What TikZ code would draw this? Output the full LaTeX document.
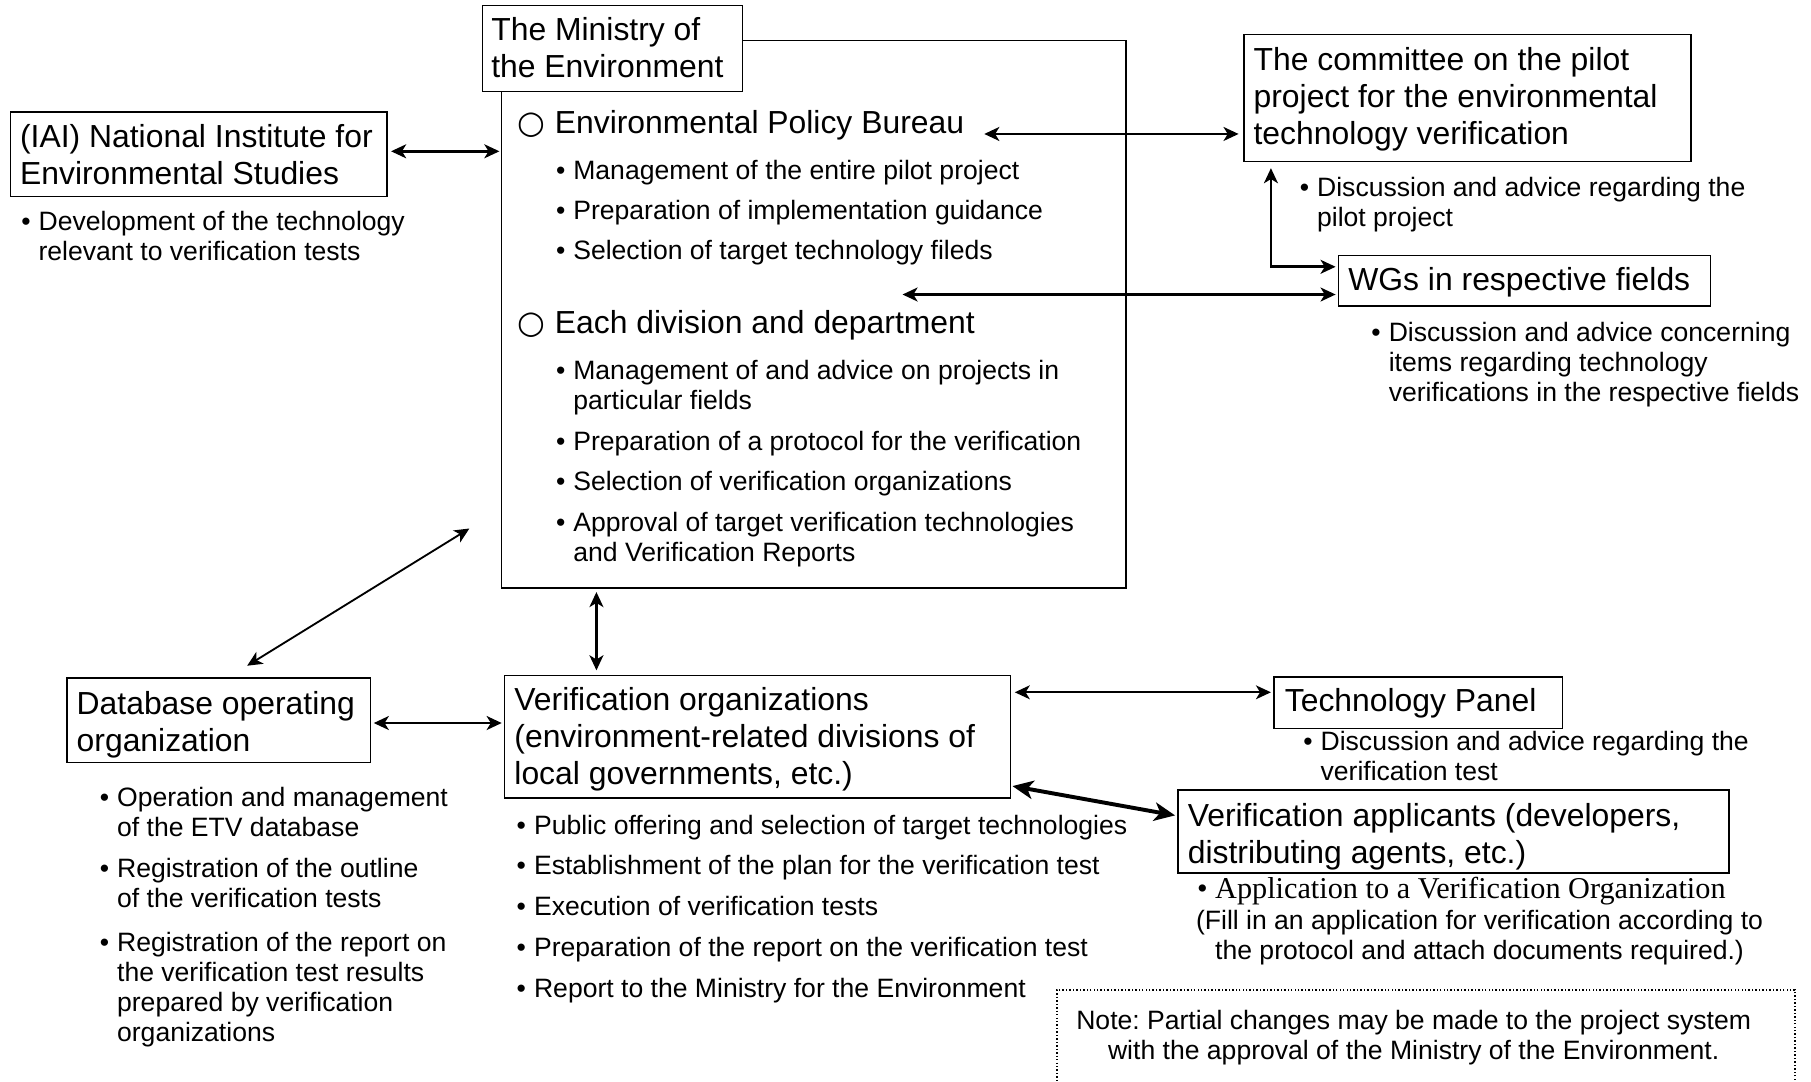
\documentclass[tikz,border=0pt]{standalone}
\usepackage{fontspec}
\setmainfont{Liberation Sans}
\newfontfamily\serifpart{Liberation Serif}
\newfontfamily\dejavu{DejaVu Sans}
\usetikzlibrary{arrows.meta,calc,fit}
\frenchspacing
\newcommand{\bulletbox}{\makebox[7.5pt][l]{•}}
\newcommand{\bulletind}{\hspace*{7.5pt}}
\newcommand{\circbox}{\makebox[16pt][l]{\dejavu ○}}
\begin{document}
\begin{tikzpicture}[x=0.5pt,y=-0.5pt,
  box/.style={draw, line width=0.6pt, inner sep=0pt},
  big/.style={font=\fontsize{13.8}{16}\selectfont, inner sep=0pt, anchor=north west, align=left},
  small/.style={font=\fontsize{11.5}{13}\selectfont, inner sep=0pt, anchor=north west, align=left},
  tip/.tip={Stealth[length=6.5pt,width=6pt,inset=1.8pt]},
  bigtip/.tip={Stealth[length=9pt,width=8pt,inset=2.5pt]},
  arr/.style={line width=1.15pt, tip-tip},
  thinarr/.style={line width=0.8pt, tip-tip},
  bigarr/.style={line width=1.7pt, bigtip-bigtip},
]
\useasboundingbox (0,0) rectangle (1568,936);
\clip (0,0) rectangle (1568,936);

% boxes
\node[box, fit={(434,35)(975,509)}] (ministry) {};
\node[box, fill=white, fit={(418,5)(643,79)}] (mtitle) {};
\node[box, fit={(9,97)(335,170)}] (iai) {};
\node[box, fit={(1077,30)(1464,140)}] (committee) {};
\node[box, fit={(1159,221)(1481,265)}] (wgs) {};
\node[box, fit={(58,587)(321,660)}] (db) {};
\node[box, fit={(437,585)(875,691)}] (vo) {};
\node[box, fit={(1103,586)(1353,631)}] (tp) {};
\node[box, fit={(1020,684)(1497,756)}] (va) {};
\node[draw, line width=0.6pt, dash pattern=on 0.6pt off 0.9pt, inner sep=0pt, fit={(915,857)(1554,980)}] (notebox) {};

% ministry texts
\node[big] (mtitletext) at (425,12.6) {\strut The Ministry of\\the Environment};
\node[big] (epb) at (448,92.6) {\strut\circbox Environmental Policy Bureau};
\node[small] (m1) at (481,136.8) {\strut\bulletbox Management of the entire pilot project};
\node[small] (m2) at (481,171.8) {\strut\bulletbox Preparation of implementation guidance};
\node[small] (m3) at (481,205.8) {\strut\bulletbox Selection of target technology fileds};
\node[big] (edd) at (448,265.6) {\strut\circbox Each division and department};
\node[small] (m4) at (481,309.8) {\strut\bulletbox Management of and advice on projects in\\\bulletind particular fields};
\node[small] (m5) at (481,371.8) {\strut\bulletbox Preparation of a protocol for the verification};
\node[small] (m6) at (481,405.8) {\strut\bulletbox Selection of verification organizations};
\node[small] (m7) at (481,441.8) {\strut\bulletbox Approval of target verification technologies\\\bulletind and Verification Reports};

% IAI
\node[big] (iaitext) at (17,104.6) {\strut(IAI) National Institute for\\Environmental Studies};
\node[small] (iaib) at (18,180.8) {\strut\bulletbox Development of the technology\\\bulletind relevant to verification tests};

% committee
\node[big] (comtext) at (1085,38.6) {\strut The committee on the pilot\\project for the environmental\\technology verification};
\node[small] (comb) at (1125,151.8) {\strut\bulletbox Discussion and advice regarding the\\\bulletind pilot project};

% WGs
\node[big] (wgstext) at (1167,228.6) {\strut WGs in respective fields};
\node[small] (wgsb) at (1187,276.8) {\strut\bulletbox Discussion and advice concerning\\\bulletind items regarding technology\\\bulletind verifications in the respective fields};

% database
\node[big] (dbtext) at (66,595.6) {\strut Database operating\\organization};
\node[small] (db1) at (86,679.8) {\strut\bulletbox Operation and management\\\bulletind of the ETV database};
\node[small] (db2) at (86,740.8) {\strut\bulletbox Registration of the outline\\\bulletind of the verification tests};
\node[small] (db3) at (86,804.8) {\strut\bulletbox Registration of the report on\\\bulletind the verification test results\\\bulletind prepared by verification\\\bulletind organizations};

% verification organizations
\node[big] (votext) at (445,592.6) {\strut Verification organizations\\(environment-related divisions of\\local governments, etc.)};
\node[small] (vo1) at (447,703.8) {\strut\bulletbox Public offering and selection of target technologies};
\node[small] (vo2) at (447,738.8) {\strut\bulletbox Establishment of the plan for the verification test};
\node[small] (vo3) at (447,773.8) {\strut\bulletbox Execution of verification tests};
\node[small] (vo4) at (447,809.8) {\strut\bulletbox Preparation of the report on the verification test};
\node[small] (vo5) at (447,844.8) {\strut\bulletbox Report to the Ministry for the Environment};

% technology panel
\node[big] (tptext) at (1112,593.6) {\strut Technology Panel};
\node[small] (tpb) at (1128,630.8) {\strut\bulletbox Discussion and advice regarding the\\\bulletind verification test};

% verification applicants
\node[big] (vatext) at (1028,692.6) {\strut Verification applicants (developers,\\distributing agents, etc.)};
\node[inner sep=0pt, anchor=base west, font=\serifpart\fontsize{13.1}{15}\selectfont] (vaser) at (1036,777.5) {• Application to a Verification Organization};
\node[small, anchor=north, align=center] (vafill) at (1281,785.8) {\strut(Fill in an application for verification according to\\the protocol and attach documents required.)};

% note
\node[small, anchor=north, align=center] (notetext) at (1224,872.8) {\strut Note: Partial changes may be made to the project system\\with the approval of the Ministry of the Environment.};

% connectors
\draw[arr] ($(iai.east)+(3,-2.5)$) -- ($(iai.east -| ministry.west)+(-1,-2.5)$);
\draw[arr] ($(committee.west)+(-4,31)$) -- ($(epb.east |- committee.west)+(17,31)$);
\draw[arr] ($(committee.south west)+(24,5)$) |- ($(wgs.west)+(-2,-12)$);
\draw[arr] ($(wgs.west)+(-2,12)$) -- ($(wgs.west)+(-377,12)$);
\draw[thinarr] ($(ministry.south west)+(-27,-52)$) -- ($(db.north)+(24.5,-10)$);
\draw[arr] ($(ministry.south west)+(83,3)$) -- ($(vo.north west)+(80,-4)$);
\draw[arr] ($(db.east)+(2,2.5)$) -- ($(db.east -| vo.west)+(-2,2.5)$);
\draw[thinarr] ($(vo.north east)+(3,15)$) -- ($(vo.north east -| tp.west)+(-2,15)$);
\draw[bigarr] ($(vo.south east)+(1,-11)$) -- ($(va.west)+(-2,-14)$);
\end{tikzpicture}
\end{document}
